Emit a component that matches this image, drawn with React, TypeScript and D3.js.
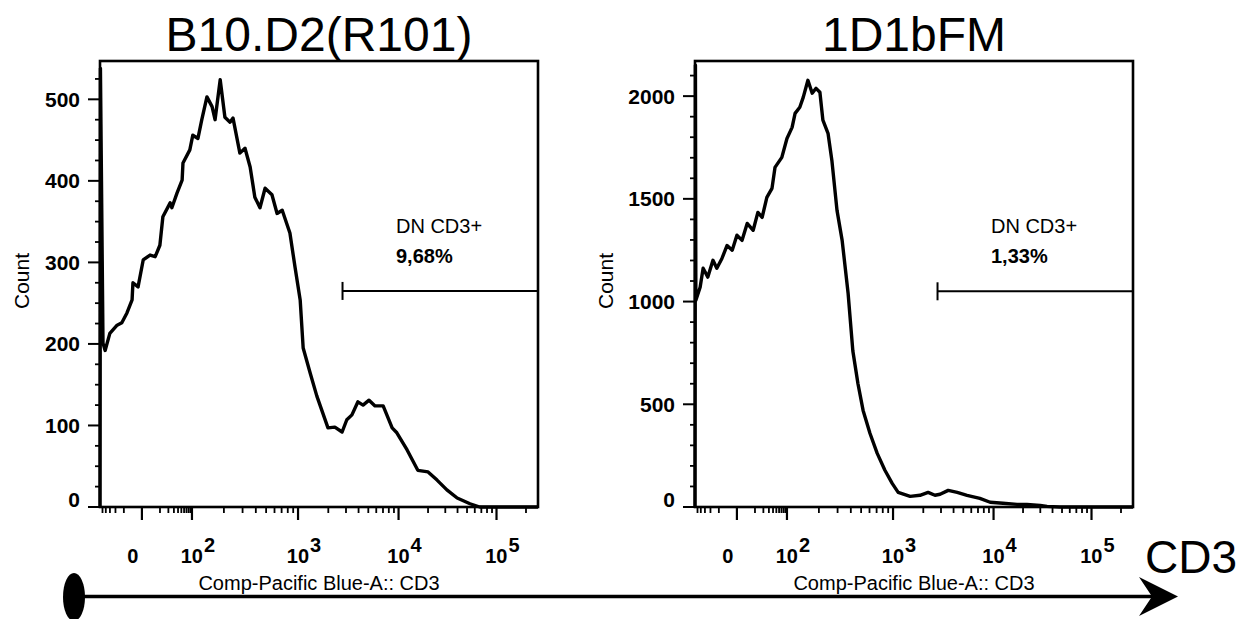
import React from 'react';
import * as d3 from 'd3';

// ---------- data ----------
const panelTitles = ['B10.D2(R101)', '1D1bFM'];
const gateNames = ['DN CD3+', 'DN CD3+'];
const gatePercents = ['9,68%', '1,33%'];
const xAxisLabel = 'Comp-Pacific Blue-A:: CD3';
const yAxisLabel = 'Count';
const arrowLabel = 'CD3';

// biexponential display channels (0..1024) of the CD3 axis
const channelMax = 1024;
const xDecadeValues = [0, 100, 1000, 10000, 100000];
const xDecadeChannels = [98, 215, 463, 698, 927];
const xTickBase = ['0', '10', '10', '10', '10'];
const xTickExp = ['', '2', '3', '4', '5'];
const xMinorValues = [
  -60, -50, -40, -30, -20, -10,
  10, 20, 30, 40, 50, 60, 70, 80, 90,
  200, 300, 400, 500, 600, 700, 800, 900,
  2000, 3000, 4000, 5000, 6000, 7000, 8000, 9000,
  20000, 30000, 40000, 50000, 60000, 70000, 80000, 90000,
  200000,
];

// B10.D2(R101) histogram
const leftChannels = [0, 1, 7, 12, 23, 40, 51, 63, 75, 77, 89, 101, 117, 129, 140, 147, 164, 168, 180, 192, 194, 210, 217, 229, 238, 250, 262, 269, 281, 292, 304, 311, 327, 339, 351, 362, 374, 386, 402, 414, 426, 444, 456, 468, 475, 491, 507, 533, 549, 566, 577, 589, 603, 615, 629, 643, 662, 683, 694, 718, 743, 767, 788, 811, 835, 865, 888, 1024];
const leftCounts = [0, 538, 201, 192, 213, 223, 226, 238, 254, 275, 270, 303, 309, 307, 321, 356, 373, 367, 385, 401, 422, 438, 456, 452, 475, 503, 491, 475, 524, 478, 472, 477, 434, 440, 417, 380, 367, 391, 383, 360, 364, 336, 294, 254, 195, 165, 136, 97, 98, 92, 107, 113, 129, 125, 131, 124, 124, 97, 91, 70, 45, 43, 33, 21, 11, 4, 0, 0];

// 1D1bFM histogram
const rightChannels = [0, 1, 2, 12, 19, 30, 42, 51, 63, 75, 87, 98, 110, 122, 136, 147, 157, 168, 180, 187, 203, 215, 227, 234, 245, 253, 264, 274, 283, 292, 299, 311, 320, 332, 344, 358, 369, 381, 393, 409, 426, 444, 461, 475, 503, 526, 545, 561, 573, 592, 613, 636, 666, 690, 720, 753, 776, 807, 823, 853, 1024];
const rightCounts = [0, 2150, 1006, 1070, 1162, 1119, 1201, 1162, 1210, 1273, 1250, 1323, 1298, 1380, 1347, 1434, 1410, 1507, 1551, 1653, 1702, 1794, 1848, 1916, 1946, 1994, 2077, 2014, 2038, 2019, 1883, 1819, 1687, 1444, 1298, 1039, 760, 600, 470, 359, 261, 179, 115, 71, 52, 57, 71, 57, 62, 81, 71, 57, 42, 23, 18, 13, 13, 8, 3, 0, 0];

const yMaxes = [547, 2171];
const yMajorTicks = [
  [0, 100, 200, 300, 400, 500],
  [0, 500, 1000, 1500, 2000],
];
const yMinorSteps = [25, 100];
const gateStartChannels = [567, 567];
const gateLabelChannels = [692, 692];
const gateCounts = [265, 1050];

// ---------- layout ----------
const W = 1239;
const H = 619;
const panelX0 = [100, 695];
const plotW = 438;
const plotTop = 61;
const plotBottom = 507;
const FONT = 'Liberation Sans, Arial, Helvetica, sans-serif';

function valueToChannel(v: number): number {
  const [c0, c2, c3, c4, c5] = xDecadeChannels;
  if (Math.abs(v) < 100) {
    const f = Math.log1p((Math.abs(v) / 100) * 20) / Math.log1p(20);
    return c0 + Math.sign(v) * (c2 - c0) * f;
  }
  const lg = Math.log10(v);
  const anchors = [c2, c3, c4, c5];
  const n = Math.floor(lg);
  if (n >= 5) return c5 + (lg - 5) * (c5 - c4);
  const i = n - 2;
  return anchors[i] + (lg - n) * (anchors[i + 1] - anchors[i]);
}

function Panel({ idx }: { idx: number }) {
  const x0 = panelX0[idx];
  const x1 = x0 + plotW;
  const xs = d3.scaleLinear().domain([0, channelMax]).range([x0, x1]);
  const ys = d3.scaleLinear().domain([0, yMaxes[idx]]).range([plotBottom, plotTop]);
  const chans = idx === 0 ? leftChannels : rightChannels;
  const counts = idx === 0 ? leftCounts : rightCounts;
  const pts: [number, number][] = chans.map((c, i) => [c, counts[i]]);
  const line = d3
    .line<[number, number]>()
    .x((d) => xs(d[0]))
    .y((d) => ys(d[1]))
    .curve(d3.curveLinear);

  const majors = yMajorTicks[idx];
  const minorStep = yMinorSteps[idx];
  const yMinors: number[] = d3.range(0, yMaxes[idx], minorStep).filter((v) => !majors.includes(v));
  const xMinors = xMinorValues.map(valueToChannel).filter((c) => c >= 0 && c <= channelMax);
  const digits = String(majors[majors.length - 1]).length;
  const countX = x0 - (43 + digits * 11.7);
  const cx = (x0 + x1) / 2;
  const gy = ys(gateCounts[idx]);
  const gx = xs(gateStartChannels[idx]);
  const tx = xs(gateLabelChannels[idx]);

  return (
    <g>
      <text x={cx} y={51} textAnchor="middle" fontFamily={FONT} fontSize={48} fill="#000">
        {panelTitles[idx]}
      </text>
      {/* histogram */}
      <path d={line(pts) || ''} fill="none" stroke="#000" strokeWidth={3.4} strokeLinejoin="round" />
      {/* frame */}
      <rect x={x0} y={plotTop} width={plotW} height={plotBottom - plotTop} fill="none" stroke="#000" strokeWidth={2.6} />
      {/* y ticks */}
      {majors.map((v) => (
        <g key={'ym' + v}>
          <line x1={x0 - 12} x2={x0} y1={ys(v)} y2={ys(v)} stroke="#000" strokeWidth={2} />
          <text
            x={x0 - 20}
            y={ys(v) - (v === 0 ? 8 : 0)}
            textAnchor="end"
            dominantBaseline="central"
            fontFamily={FONT}
            fontWeight="bold"
            fontSize={21}
            fill="#000"
          >
            {v}
          </text>
        </g>
      ))}
      {yMinors.map((v) => (
        <line key={'yn' + v} x1={x0 - 5} x2={x0} y1={ys(v)} y2={ys(v)} stroke="#000" strokeWidth={1.8} />
      ))}
      <text
        transform={`translate(${countX},${(plotTop + plotBottom) / 2 - 3}) rotate(-90)`}
        textAnchor="middle"
        dominantBaseline="central"
        fontFamily={FONT}
        fontSize={21}
        fill="#000"
      >
        {yAxisLabel}
      </text>
      {/* x ticks */}
      {xMinors.map((c, i) => (
        <line key={'xn' + i} x1={xs(c)} x2={xs(c)} y1={plotBottom} y2={plotBottom + 6} stroke="#000" strokeWidth={1.8} />
      ))}
      {xDecadeChannels.map((c, i) => (
        <g key={'xm' + i}>
          <line x1={xs(c)} x2={xs(c)} y1={plotBottom} y2={plotBottom + 13} stroke="#000" strokeWidth={2.2} />
          {xTickExp[i] === '' ? (
            <text x={xs(c) - 9} y={563} textAnchor="middle" fontFamily={FONT} fontWeight="bold" fontSize={20} fill="#000">
              {xTickBase[i]}
            </text>
          ) : (
            <>
              <text x={xs(c) + 11} y={563} textAnchor="end" fontFamily={FONT} fontWeight="bold" fontSize={20} fill="#000">
                {xTickBase[i]}
              </text>
              <text x={xs(c) + 12} y={552} textAnchor="start" fontFamily={FONT} fontWeight="bold" fontSize={20} fill="#000">
                {xTickExp[i]}
              </text>
            </>
          )}
        </g>
      ))}
      <text x={cx} y={590} textAnchor="middle" fontFamily={FONT} fontSize={20} fill="#000">
        {xAxisLabel}
      </text>
      {/* gate */}
      <line x1={gx} x2={x1} y1={gy} y2={gy} stroke="#000" strokeWidth={2} />
      <line x1={gx} x2={gx} y1={gy - 9} y2={gy + 9} stroke="#000" strokeWidth={2} />
      <text x={tx} y={gy - 58} fontFamily={FONT} fontSize={20} fill="#000">
        {gateNames[idx]}
      </text>
      <text x={tx} y={gy - 28} fontFamily={FONT} fontWeight="bold" fontSize={20} fill="#000">
        {gatePercents[idx]}
      </text>
    </g>
  );
}

export default function App() {
  const arrowY = 596.5;
  const head = d3.line()([
    [1178, arrowY],
    [1139, 577],
    [1152, arrowY],
    [1139, 616],
  ]) + 'Z';
  return (
    <svg
      width={W}
      height={H}
      viewBox={`0 0 ${W} ${H}`}
      style={{ position: 'absolute', left: 0, top: 0, background: '#fff' }}
    >
      <rect x={0} y={0} width={W} height={H} fill="#fff" />
      <Panel idx={0} />
      <Panel idx={1} />
      <line x1={80} x2={1156} y1={arrowY} y2={arrowY} stroke="#000" strokeWidth={3.5} />
      <ellipse cx={74} cy={597} rx={11} ry={24} fill="#000" />
      <path d={head} fill="#000" />
      <text x={1237} y={573} textAnchor="end" fontFamily={FONT} fontSize={46} fill="#000">
        {arrowLabel}
      </text>
    </svg>
  );
}
